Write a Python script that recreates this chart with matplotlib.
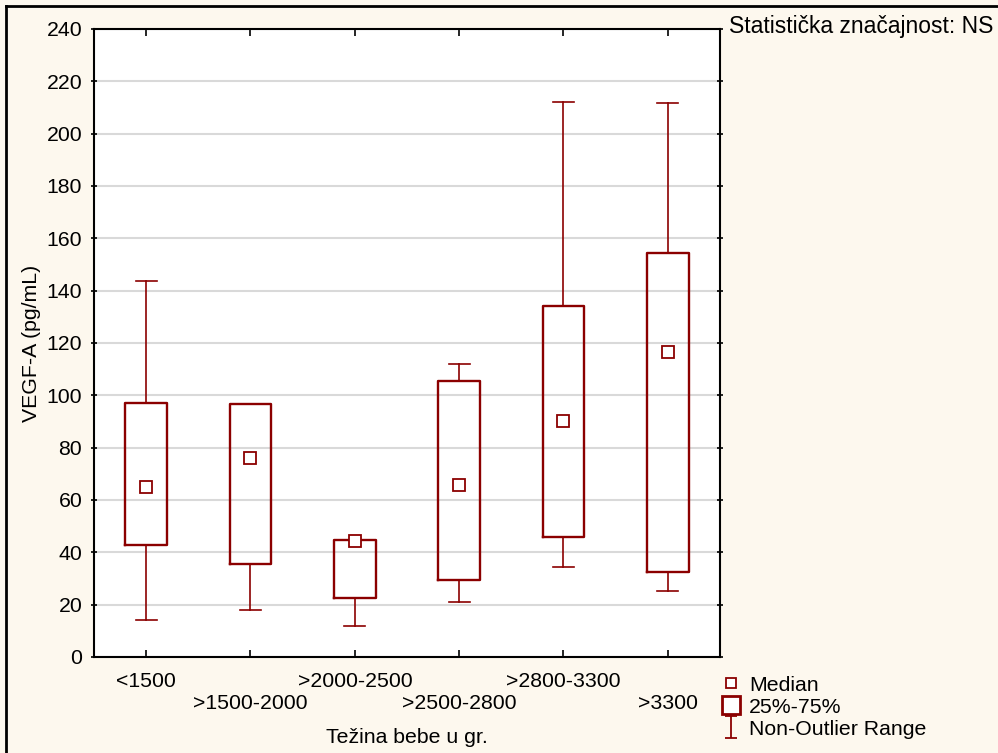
import numpy as np
import matplotlib.pyplot as plt
from matplotlib.lines import Line2D
from matplotlib.path import Path

plt.rcParams['font.family'] = ['Liberation Sans', 'DejaVu Sans']
plt.rcParams['font.size'] = 15.3

# Težina bebe / VEGF-A, statistike po grupama
grupe = ['<1500', '>1500-2000', '>2000-2500', '>2500-2800', '>2800-3300', '>3300']
medijan = [65, 76, 44.4, 65.8, 90.2, 116.5]
q1 = [42.8, 35.5, 22.5, 29.4, 45.8, 32.5]
q3 = [97.1, 96.8, 44.8, 105.5, 134.1, 154.5]
min_val = [14.1, 18.0, 11.8, 21.0, 34.4, 25.2]
max_val = [143.8, 96.8, 44.8, 112.0, 212.2, 211.8]

boja = '#8B0000'
pozadina = '#FDF8EE'

fig = plt.figure(figsize=(9.98, 7.53), dpi=100, facecolor=pozadina)
ax = fig.add_axes([0.0942, 0.1275, 0.6272, 0.834])
ax.set_facecolor('white')

stats = []
for i, g in enumerate(grupe):
    stats.append({'label': g, 'med': medijan[i], 'q1': q1[i], 'q3': q3[i],
                  'whislo': min_val[i], 'whishi': max_val[i], 'fliers': []})

pos = np.arange(len(grupe))
ax.bxp(stats, positions=pos, widths=0.4, capwidths=0.2, showfliers=False,
       boxprops=dict(color=boja, linewidth=1.7),
       whiskerprops=dict(color=boja, linewidth=1.2),
       capprops=dict(color=boja, linewidth=1.2),
       medianprops=dict(linestyle='none'), zorder=3)
ax.plot(pos, medijan, linestyle='none', marker='s', markersize=8,
        markerfacecolor='white', markeredgecolor=boja, markeredgewidth=1.3, zorder=4)

ax.set_xlim(-0.5, 5.5)
ax.set_ylim(0, 240)
ax.set_yticks(np.arange(0, 241, 20))
ax.set_xticks(pos)
ax.set_xticklabels([g if i % 2 == 0 else '\n' + g for i, g in enumerate(grupe)])
for t in ax.get_xticklabels():
    t.set_linespacing(1.15)
ax.grid(axis='y', color='#D9D9D9', linewidth=1.5, zorder=0)
ax.set_axisbelow(True)

for s in ax.spines.values():
    s.set_linewidth(1.5)
ax.tick_params(axis='x', direction='in', length=5, width=1.2, pad=11, top=True)
ax.tick_params(axis='y', direction='inout', length=5, width=1.2, pad=6, right=True)

ax.set_xlabel('Težina bebe u gr.', labelpad=11)
ax.set_ylabel('VEGF-A (pg/mL)', labelpad=4)

fig.text(0.7305, 0.980, 'Statistička značajnost: NS', ha='left', va='top', fontsize=16.5)

# okvir slike (gore i lijevo)
fig.add_artist(Line2D([0.006, 1], [0.992, 0.992], color='black', linewidth=2))
fig.add_artist(Line2D([0.006, 0.006], [0, 0.992], color='black', linewidth=2))

# legenda
i_oblik = Path([(-0.5, -1), (0.5, -1), (0, -1), (0, 1), (-0.5, 1), (0.5, 1)],
               [Path.MOVETO, Path.LINETO, Path.MOVETO, Path.LINETO, Path.MOVETO, Path.LINETO])
rucke = [
    Line2D([], [], linestyle='none', marker='s', markersize=7, markerfacecolor='white',
           markeredgecolor=boja, markeredgewidth=1.3),
    Line2D([], [], linestyle='none', marker='s', markersize=13, markerfacecolor='white',
           markeredgecolor=boja, markeredgewidth=2.0),
    Line2D([], [], linestyle='none', marker=i_oblik, markersize=16, markerfacecolor='none',
           markeredgecolor=boja, markeredgewidth=1.3),
]
fig.legend(rucke, ['Median', '25%-75%', 'Non-Outlier Range'], loc='upper left',
           bbox_to_anchor=(0.711, 0.117), frameon=False, handlelength=1.0,
           handletextpad=0.35, labelspacing=0.15, borderpad=0, fontsize=15.3)

fig.savefig('out.png', dpi=100, facecolor=pozadina)
